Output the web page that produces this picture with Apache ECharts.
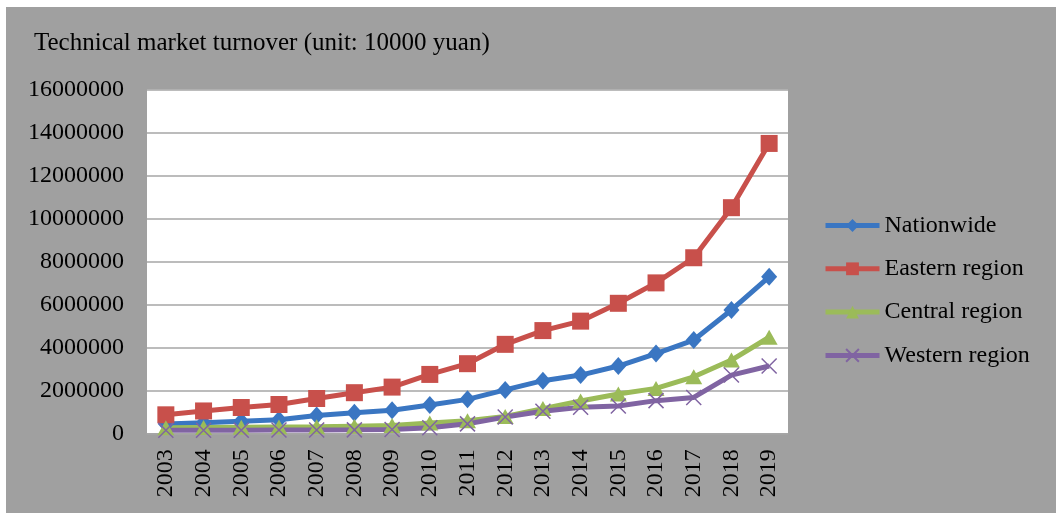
<!DOCTYPE html>
<html>
<head>
<meta charset="utf-8">
<script src="https://cdn.jsdelivr.net/npm/echarts@6/dist/echarts.min.js"></script>
<style>
html,body{margin:0;padding:0;background:#fff;}
#c{position:absolute;left:6px;top:7px;width:1050px;height:506px;}
</style>
</head>
<body>
<div id="c"></div>
<script>
const years = ['2003','2004','2005','2006','2007','2008','2009','2010','2011','2012','2013','2014','2015','2016','2017','2018','2019'];
const nationwide = [430000, 490000, 560000, 630000, 830000, 960000, 1070000, 1320000, 1580000, 2020000, 2450000, 2710000, 3130000, 3710000, 4340000, 5740000, 7280000];
const eastern = [860000, 1040000, 1200000, 1340000, 1620000, 1890000, 2150000, 2740000, 3240000, 4140000, 4780000, 5220000, 6050000, 7000000, 8170000, 10500000, 13490000];
const central = [260000, 270000, 280000, 290000, 300000, 330000, 360000, 480000, 580000, 780000, 1150000, 1500000, 1830000, 2090000, 2630000, 3410000, 4470000];
const western = [140000, 140000, 140000, 150000, 150000, 160000, 180000, 260000, 440000, 760000, 1030000, 1210000, 1270000, 1520000, 1670000, 2710000, 3130000];
const seriesNames = ['Nationwide', 'Eastern region', 'Central region', 'Western region'];
const titleText = 'Technical market turnover (unit: 10000 yuan)';

const FONT = '"Liberation Serif", "Times New Roman", serif';
const chart = echarts.init(document.getElementById('c'));
const crossPath = 'path://M0,0L10,10M10,0L0,10';
function mk(name, data, color, symbol, size, extra) {
  return Object.assign({
    name: name, type: 'line', data: data, symbol: symbol, symbolSize: size,
    lineStyle: {color: color, width: 5},
    itemStyle: {color: color},
    emphasis: {disabled: true},
    animation: false
  }, extra || {});
}
chart.setOption({
  backgroundColor: '#a0a0a0',
  animation: false,
  title: {
    text: titleText, left: 28, top: 24, padding: 0,
    textStyle: {fontFamily: FONT, fontSize: 25, fontWeight: 'normal', color: '#000'}
  },
  legend: {
    orient: 'vertical', left: 817, top: 206.5, padding: 0,
    itemWidth: 54, itemHeight: 16, itemGap: 19.3,
    lineStyle: {width: 5},
    textStyle: {fontFamily: FONT, fontSize: 24, color: '#000', lineHeight: 24},
    data: seriesNames
  },
  grid: {left: 141, top: 82.5, right: 268, bottom: 79.7, show: true, backgroundColor: '#fff', borderWidth: 0, containLabel: false},
  xAxis: {
    type: 'category', data: years, boundaryGap: true,
    axisLine: {show: true, lineStyle: {color: '#a6a6a6', width: 1}},
    axisTick: {show: false},
    axisLabel: {rotate: 90, margin: 16, fontFamily: FONT, fontSize: 24, color: '#000'}
  },
  yAxis: {
    type: 'value', min: 0, max: 16000000, interval: 2000000,
    axisLine: {show: false}, axisTick: {show: false},
    splitLine: {lineStyle: {color: '#a6a6a6', width: 1.5}},
    axisLabel: {margin: 23, fontFamily: FONT, fontSize: 24, color: '#000', formatter: function (v) { return String(v); }}
  },
  series: [
    mk(seriesNames[0], nationwide, '#3a76c2', 'diamond', [16, 18]),
    mk(seriesNames[1], eastern, '#c8504b', 'rect', 17),
    mk(seriesNames[2], central, '#9bbb59', 'triangle', [17, 15]),
    mk(seriesNames[3], western, '#8064a2', crossPath, 15, {itemStyle: {color: 'rgba(0,0,0,0)', borderColor: '#8064a2', borderWidth: 1.5}})
  ]
});
</script>
</body>
</html>
